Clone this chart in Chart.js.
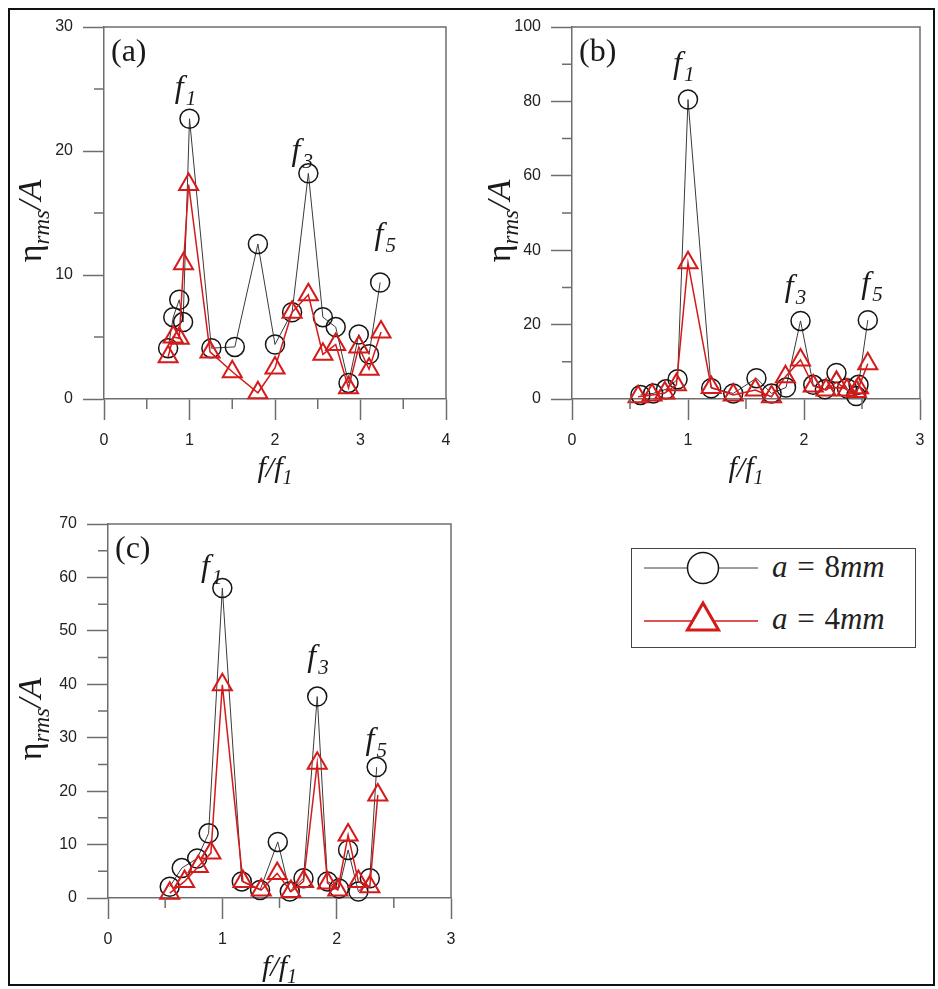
<!DOCTYPE html>
<html>
<head>
<meta charset="utf-8">
<script src="https://cdn.jsdelivr.net/npm/chart.js@4.4.1/dist/chart.umd.min.js"></script>
<style>
  body { margin: 0; background: #fff; width: 938px; height: 989px; position: relative; overflow: hidden; }
  #frame { position: absolute; left: 8px; top: 8px; width: 927px; height: 978px; border: 2px solid #111; box-sizing: border-box; }
  canvas.panel { position: absolute; }
  #legend { position: absolute; left: 631px; top: 548px; width: 285px; height: 100px; border: 1.5px solid #444; box-sizing: border-box; background: #fff; }
  #legend canvas { position: absolute; left: 5px; }
  #legend .txt { position: absolute; left: 140px; font: 31px "Liberation Serif", "DejaVu Serif", serif; color: #222; white-space: nowrap; word-spacing: 2px; }
</style>
</head>
<body>
<div id="frame"></div>
<canvas id="chartA" class="panel" width="469" height="490" style="left:0;top:0"></canvas>
<canvas id="chartB" class="panel" width="469" height="490" style="left:469px;top:0"></canvas>
<canvas id="chartC" class="panel" width="469" height="494" style="left:0;top:495px"></canvas>
<div id="legend">
  <canvas id="leg8" width="130" height="44" style="top:-3px"></canvas>
  <div class="txt" style="top:0px"><i>a</i> = 8<i>mm</i></div>
  <canvas id="leg4" width="130" height="44" style="top:50px"></canvas>
  <div class="txt" style="top:52px"><i>a</i> = 4<i>mm</i></div>
</div>
<script>
// panel (a)
const aFreq8 = [0.75, 0.81, 0.88, 0.925, 1.0, 1.256, 1.53, 1.80, 2.0, 2.20, 2.39, 2.56, 2.71, 2.86, 2.98, 3.10, 3.23];
const aAmp8  = [4.1, 6.6, 8.0, 6.2, 22.6, 4.1, 4.2, 12.5, 4.4, 7.0, 18.2, 6.6, 5.8, 1.3, 5.2, 3.6, 9.4];
const aFreq4 = [0.75, 0.81, 0.88, 0.93, 0.99, 1.24, 1.50, 1.80, 2.0, 2.20, 2.39, 2.56, 2.71, 2.86, 2.98, 3.10, 3.24];
const aAmp4  = [3.4, 5.0, 4.9, 10.9, 17.3, 3.8, 2.2, 0.5, 2.5, 7.0, 8.4, 3.6, 4.4, 0.9, 4.2, 2.4, 5.4];

// panel (b)
const bFreq8 = [0.59, 0.70, 0.81, 0.91, 1.0, 1.20, 1.39, 1.59, 1.72, 1.845, 1.97, 2.08, 2.18, 2.28, 2.37, 2.45, 2.47, 2.55];
const bAmp8  = [1.1, 1.5, 2.6, 5.3, 80.5, 2.9, 1.5, 5.6, 1.5, 3.1, 21.0, 3.8, 2.6, 7.0, 2.9, 0.8, 3.8, 21.2];
const bFreq4 = [0.57, 0.69, 0.80, 0.90, 1.0, 1.20, 1.39, 1.58, 1.72, 1.84, 1.97, 2.08, 2.19, 2.28, 2.37, 2.45, 2.47, 2.55];
const bAmp4  = [0.6, 1.1, 1.6, 3.8, 36.6, 3.1, 1.1, 2.4, 0.6, 6.0, 10.5, 3.5, 2.4, 4.5, 2.4, 2.0, 3.0, 9.5];

// panel (c)
const cFreq8 = [0.54, 0.645, 0.78, 0.88, 1.0, 1.17, 1.33, 1.485, 1.59, 1.71, 1.83, 1.92, 2.02, 2.10, 2.19, 2.29, 2.35];
const cAmp8  = [2.1, 5.6, 7.4, 12.1, 58.0, 3.1, 1.5, 10.5, 1.2, 3.7, 37.7, 3.1, 1.8, 9.0, 1.2, 3.7, 24.5];
const cFreq4 = [0.54, 0.67, 0.79, 0.90, 1.0, 1.18, 1.34, 1.48, 1.60, 1.71, 1.83, 1.92, 2.01, 2.10, 2.19, 2.29, 2.36];
const cAmp4  = [0.9, 3.1, 5.9, 8.4, 39.9, 3.1, 1.5, 4.6, 1.2, 3.1, 25.2, 2.8, 1.5, 11.8, 3.1, 2.1, 19.3];

// harmonic labels f1 f3 f5: [x, y, subscript]
const aNotes = [[0.945, 24.7, '1'], [2.31, 19.6, '3'], [3.28, 12.8, '5']];
const bNotes = [[0.957, 88.8, '1'], [1.92, 28.8, '3'], [2.58, 29.6, '5']];
const cNotes = [[0.90, 61.0, '1'], [1.83, 44.2, '3'], [2.34, 28.6, '5']];

const SERIF = '"Liberation Serif", "DejaVu Serif", serif';
const SANS = '"Liberation Sans", Arial, sans-serif';
const AXIS = '#6e6e6e';
const RED = '#d41a1a';

const zip = (xs, ys) => xs.map((x, i) => ({x: x, y: ys[i]}));

const decoPlugin = {
  id: 'deco',
  afterDraw(chart, args, opts) {
    const ctx = chart.ctx;
    const ca = chart.chartArea;
    const sx = chart.scales.x, sy = chart.scales.y;
    ctx.save();
    // frame top + right
    ctx.strokeStyle = AXIS;
    ctx.lineWidth = 1.5;
    ctx.beginPath();
    ctx.moveTo(ca.left, ca.top); ctx.lineTo(ca.right, ca.top); ctx.lineTo(ca.right, ca.bottom);
    ctx.stroke();
    // minor ticks
    ctx.beginPath();
    for (let v = sx.min + opts.minorX; v < sx.max; v += 2 * opts.minorX) {
      const px = sx.getPixelForValue(v);
      ctx.moveTo(px, ca.bottom); ctx.lineTo(px, ca.bottom + 10);
    }
    for (let v = sy.min + opts.minorY; v < sy.max; v += 2 * opts.minorY) {
      const py = sy.getPixelForValue(v);
      ctx.moveTo(ca.left, py); ctx.lineTo(ca.left - 10, py);
    }
    ctx.stroke();

    ctx.fillStyle = '#1a1a1a';
    ctx.textBaseline = 'alphabetic';
    // panel letter
    ctx.font = '32px ' + SERIF;
    ctx.textAlign = 'left';
    ctx.fillText(opts.panel, ca.left + 7, ca.top + 34);

    // f_n labels
    opts.notes.forEach(n => {
      const px = sx.getPixelForValue(n[0]);
      const py = sy.getPixelForValue(n[1]);
      ctx.font = 'italic 32px ' + SERIF;
      ctx.fillText('f', px - 10, py + 4);
      ctx.font = 'italic 21px ' + SERIF;
      ctx.fillText(n[2], px + 1, py + 12);
    });

    // x title f/f1
    const xc = (ca.left + ca.right) / 2;
    const xb = ca.bottom + 78;
    ctx.font = 'italic 30px ' + SERIF;
    const w1 = ctx.measureText('f/f').width;
    ctx.font = 'italic 20px ' + SERIF;
    const w2 = ctx.measureText('1').width;
    let x0 = xc - (w1 + w2) / 2;
    ctx.font = 'italic 30px ' + SERIF;
    ctx.fillText('f/f', x0, xb);
    ctx.font = 'italic 20px ' + SERIF;
    ctx.fillText('1', x0 + w1, xb + 7);

    // y title eta_rms/A
    ctx.translate(opts.yTitleX, (ca.top + ca.bottom) / 2 + 8);
    ctx.rotate(-Math.PI / 2);
    const parts = [
      ['η', '34px ' + SERIF, 0],
      ['rms', 'italic 23px ' + SERIF, 8],
      ['/A', 'italic 34px ' + SERIF, 0]
    ];
    let total = 0;
    parts.forEach(p => { ctx.font = p[1]; total += ctx.measureText(p[0]).width; });
    let cx = -total / 2;
    parts.forEach(p => {
      ctx.font = p[1];
      ctx.fillText(p[0], cx, 11 + p[2]);
      cx += ctx.measureText(p[0]).width;
    });
    ctx.restore();
  }
};

function makePanel(id, d8, d4, xMax, yMax, yStep, yMinor, pad, yWidth, panel, notes) {
  return new Chart(document.getElementById(id), {
    type: 'line',
    data: {
      datasets: [
        {
          data: d4,
          borderColor: RED,
          borderWidth: 1.5,
          pointStyle: 'triangle',
          pointRadius: 11,
          pointBorderWidth: 2,
          pointBorderColor: RED,
          pointBackgroundColor: 'rgba(0,0,0,0)',
          clip: false
        },
        {
          data: d8,
          borderColor: '#3a3a3a',
          borderWidth: 1,
          pointStyle: 'circle',
          pointRadius: 9.5,
          pointBorderWidth: 1.5,
          pointBorderColor: '#151515',
          pointBackgroundColor: 'rgba(0,0,0,0)',
          clip: false
        }
      ]
    },
    options: {
      responsive: false,
      animation: false,
      events: [],
      layout: { padding: pad },
      plugins: {
        legend: { display: false },
        tooltip: { enabled: false },
        deco: { panel: panel, notes: notes, minorX: 0.5, minorY: yMinor, yTitleX: 30 }
      },
      scales: {
        x: {
          type: 'linear', min: 0, max: xMax,
          afterFit: s => { s.height = 91; },
          ticks: { stepSize: 1, font: { family: SANS, size: 16 }, color: '#222', padding: 11, maxRotation: 0 },
          grid: { drawOnChartArea: false, drawTicks: true, tickLength: 21, tickColor: AXIS, tickWidth: 1.5 },
          border: { display: true, color: AXIS, width: 1.5 }
        },
        y: {
          min: 0, max: yMax,
          afterFit: s => { s.width = yWidth; },
          ticks: { stepSize: yStep, font: { family: SANS, size: 16 }, color: '#222', padding: 10 },
          grid: { drawOnChartArea: false, drawTicks: true, tickLength: 21, tickColor: AXIS, tickWidth: 1.5 },
          border: { display: true, color: AXIS, width: 1.5 }
        }
      }
    },
    plugins: [decoPlugin]
  });
}

makePanel('chartA', zip(aFreq8, aAmp8), zip(aFreq4, aAmp4), 4, 30, 10, 5,
  { top: 27, right: 23, left: 0, bottom: 0 }, 104, '(a)', aNotes);
makePanel('chartB', zip(bFreq8, bAmp8), zip(bFreq4, bAmp4), 3, 100, 20, 10,
  { top: 27, right: 18, left: 0, bottom: 0 }, 103, '(b)', bNotes);
makePanel('chartC', zip(cFreq8, cAmp8), zip(cFreq4, cAmp4), 3, 70, 10, 5,
  { top: 29, right: 18, left: 0, bottom: 0 }, 108, '(c)', cNotes);

// legend symbols
function legendSymbol(id, color, width, style, radius, pw) {
  const ctx = document.getElementById(id).getContext('2d');
  ctx.strokeStyle = color;
  ctx.lineWidth = width;
  ctx.beginPath(); ctx.moveTo(7, 22); ctx.lineTo(121, 22); ctx.stroke();
  ctx.fillStyle = '#fff';
  ctx.strokeStyle = color === RED ? RED : '#151515';
  ctx.lineWidth = pw;
  Chart.helpers.drawPoint(ctx, { pointStyle: style, radius: radius, rotation: 0, borderWidth: pw }, 66, 22);
}
legendSymbol('leg8', '#3a3a3a', 1, 'circle', 15.5, 1.5);
legendSymbol('leg4', RED, 1.5, 'triangle', 18, 3);
</script>
</body>
</html>
